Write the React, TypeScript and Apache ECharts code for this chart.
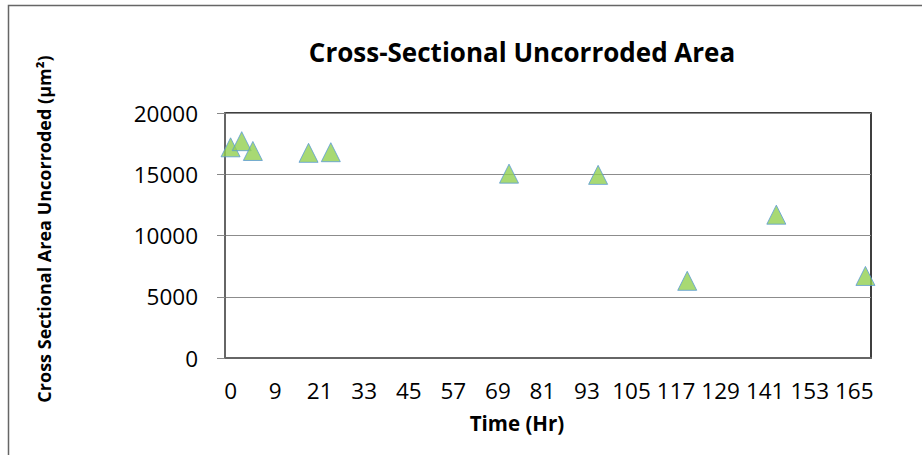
import React, { useEffect, useRef } from "react";
import * as echarts from "echarts";

// Time categories (hours) of the category axis
const hourCategories: string[] = [
  "0", "1", "3", "6", "9", "12", "15", "18", "21", "24", "27", "30", "33", "36", "39",
  "42", "45", "48", "51", "54", "57", "60", "63", "66", "69", "72", "75", "78", "81",
  "84", "87", "90", "93", "96", "99", "102", "105", "108", "111", "114", "117", "120",
  "123", "126", "129", "132", "135", "138", "141", "144", "147", "150", "153", "156",
  "159", "162", "165", "168",
];

// Measured points
const sampleHours: string[] = ["0", "1", "3", "18", "24", "72", "96", "120", "144", "168"];
const areaValues: number[] = [17200, 17700, 16900, 16750, 16800, 15050, 14950, 6300, 11700, 6700];

const yTicks: number[] = [0, 5000, 10000, 15000, 20000];

const xAxisTitle = "Time (Hr)";
const yAxisTitle = "Cross Sectional Area Uncorroded (µm²)";

const FONT = "'Open Sans', 'Liberation Sans', sans-serif";

export default function App() {
  const ref = useRef<HTMLDivElement>(null);
  useEffect(() => {
    if (!ref.current) return;
    const chart = echarts.init(ref.current, undefined, { renderer: "svg" });
    chart.setOption({
      animation: false,
      backgroundColor: "#ffffff",
      title: {
        text: "Cross-Sectional Uncorroded Area",
        left: 517,
        top: 34,
        textAlign: "center",
        textStyle: { fontFamily: FONT, fontWeight: "bold", fontSize: 26, color: "#000" },
      },
      graphic: [
        {
          type: "rect",
          shape: { x: 8.5, y: 5.5, width: 1000, height: 600 },
          style: { fill: "none", stroke: "#666666", lineWidth: 1.5 },
          silent: true,
        },
        {
          type: "text",
          x: 517,
          y: 423,
          style: {
            text: xAxisTitle,
            fill: "#000",
            font: `bold 20.5px ${FONT}`,
            textAlign: "center",
            textVerticalAlign: "middle",
          },
          silent: true,
        },
        {
          type: "text",
          x: 44,
          y: 229,
          rotation: Math.PI / 2,
          style: {
            text: yAxisTitle,
            fill: "#000",
            font: `bold 18px ${FONT}`,
            textAlign: "center",
            textVerticalAlign: "middle",
          },
          silent: true,
        },
      ],
      grid: {
        left: 225,
        right: 51,
        top: 113,
        bottom: 97,
        show: true,
        borderColor: "#000000",
        borderWidth: 1.5,
        backgroundColor: "transparent",
      },
      xAxis: {
        type: "category",
        data: hourCategories,
        boundaryGap: true,
        axisLine: { show: true, lineStyle: { color: "#666666", width: 2 } },
        axisTick: { show: false },
        axisLabel: {
          interval: 3,
          margin: 21,
          fontFamily: FONT,
          fontSize: 22.5,
          color: "#000",
        },
        splitLine: { show: false },
      },
      yAxis: {
        type: "value",
        min: yTicks[0],
        max: yTicks[yTicks.length - 1],
        interval: 5000,
        axisLine: { show: true, lineStyle: { color: "#666666", width: 2 } },
        axisTick: { show: true, inside: false, length: 8, lineStyle: { color: "#888888", width: 1 } },
        axisLabel: {
          margin: 27,
          fontFamily: FONT,
          fontSize: 22.5,
          color: "#000",
          formatter: (v: number) => String(v),
        },
        splitLine: { show: true, lineStyle: { color: "#8c8c8c", width: 1 } },
      },
      series: [
        {
          type: "scatter",
          data: sampleHours.map((h, i) => [h, areaValues[i]]),
          symbol: "triangle",
          symbolSize: [19, 19],
          itemStyle: { color: "#92D050", borderColor: "#5B9BD5", borderWidth: 1 },
          clip: false,
        },
      ],
    });
    return () => chart.dispose();
  }, []);
  return (
    <div
      ref={ref}
      style={{ position: "fixed", left: 0, top: 0, width: 922, height: 455 }}
    />
  );
}
